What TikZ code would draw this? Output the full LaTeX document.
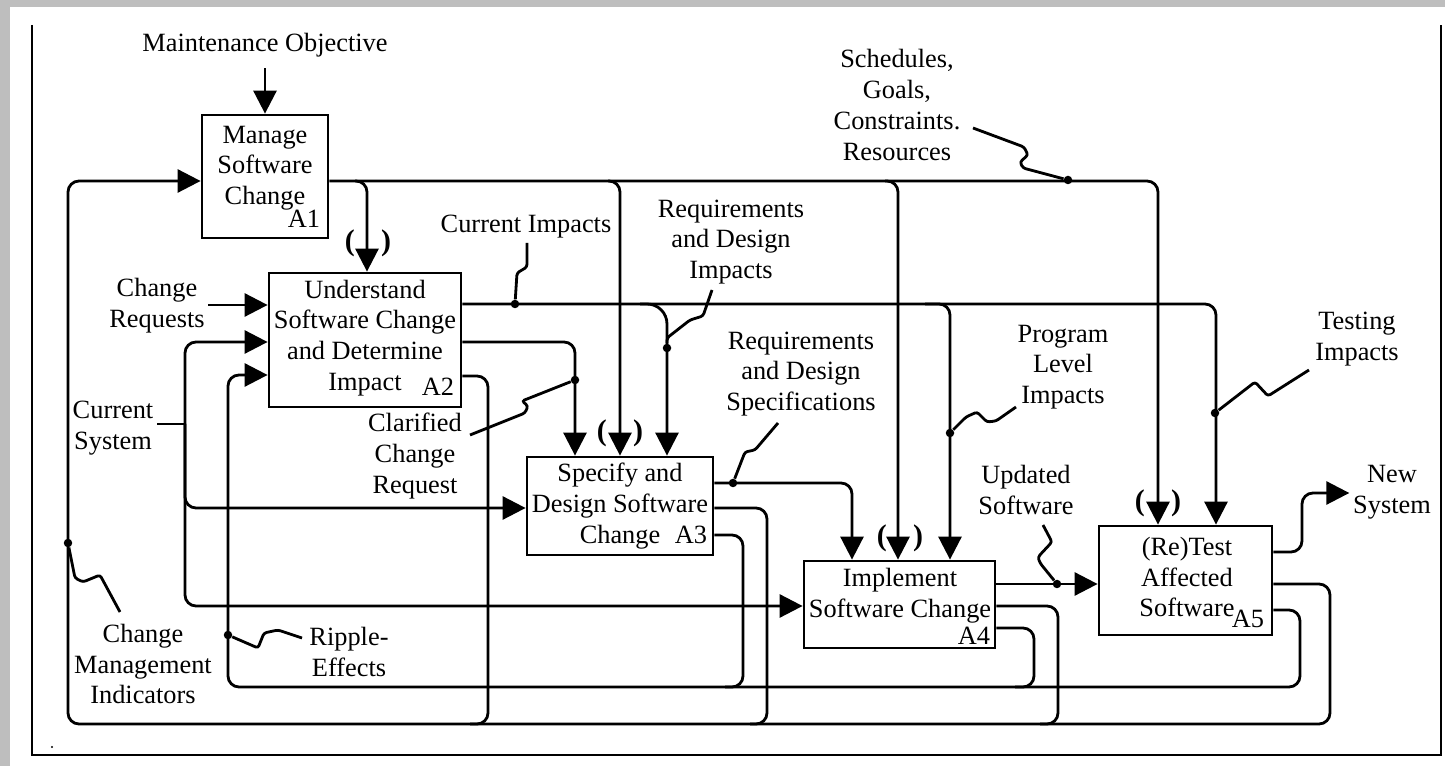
\documentclass[tikz,border=0pt]{standalone}
\usepackage{fontspec}
\setmainfont{Liberation Serif}
\usetikzlibrary{arrows.meta,positioning,calc}
\definecolor{pagegray}{HTML}{BEBEBE}
\tikzset{
  actbox/.style={rectangle,draw,line width=1.6pt,inner sep=0pt},
  boxtext/.style={align=center,font=\fontsize{15}{17.5}\selectfont,inner sep=1pt},
  tag/.style={font=\fontsize{15}{17.5}\selectfont,inner sep=1pt},
  lbl/.style={align=center,font=\fontsize{15}{17.5}\selectfont,inner sep=2pt},
  flow/.style={line width=1.6pt,rounded corners=0.22cm},
  arrow/.style={flow,-{Triangle[length=0.46cm,width=0.46cm]}},
  squig/.style={line width=1.6pt,rounded corners=1.5pt},
  tunnel/.style={font=\fontsize{17}{17.5}\selectfont\bfseries,inner sep=0pt},
  dot/.style={circle,fill,inner sep=0pt,minimum size=0.17cm}
}

\begin{document}
\begin{tikzpicture}[x=0.02cm,y=-0.02cm]
    \useasboundingbox (0,0) rectangle (1445,766);
    \fill[pagegray] (0,0) rectangle (1445,766);
    \fill[white] (10,7) rectangle (1445,766);
    \draw[line width=1pt] (32,25) -- (32,755) -- (1441,755) -- (1441,25);
    \fill (52,747) circle (0.6pt);

    % activity boxes
    \node[actbox,minimum width=2.52cm,minimum height=2.46cm] (a1) at (265,176.5) {};
    \node[actbox,minimum width=3.84cm,minimum height=2.68cm] (a2) at (365,340) {};
    \node[actbox,minimum width=3.72cm,minimum height=1.96cm] (a3) at (620,506) {};
    \node[actbox,minimum width=3.82cm,minimum height=1.74cm] (a4) at (899.5,604.5) {};
    \node[actbox,minimum width=3.46cm,minimum height=2.18cm] (a5) at (1185.5,580.5) {};

    \node[boxtext] (a1t) at (265,168) {Manage\\Software\\Change};
    \node[boxtext] (a2t) at (365,338) {Understand\\Software Change\\and Determine\\Impact};
    \node[boxtext] (a3t) at (620,506) {Specify and\\Design Software\\Change};
    \node[boxtext] (a4t) at (900,596) {Implement\\Software Change};
    \node[boxtext] (a5t) at (1187,577) {(Re)Test\\Affected\\Software};
    \node[tag] (t1) at (304,219) {A1};
    \node[tag] (t2) at (438,387) {A2};
    \node[tag] (t3) at (691,535) {A3};
    \node[tag] (t4) at (974,636) {A4};
    \node[tag] (t5) at (1248,619) {A5};

    % labels
    \node[lbl] (mo) at (265,45) {Maintenance Objective};
    \node[lbl] (sgc) at (897,105) {Schedules,\\Goals,\\Constraints.\\Resources};
    \node[lbl] (ci) at (526,227) {Current Impacts};
    \node[lbl] (rdi) at (731,242) {Requirements\\and Design\\Impacts};
    \node[lbl] (cr) at (157,306) {Change\\Requests};
    \node[lbl] (cs) at (113,428) {Current\\System};
    \node[lbl] (ccr) at (415,456) {Clarified\\Change\\Request};
    \node[lbl] (rds) at (801,374) {Requirements\\and Design\\Specifications};
    \node[lbl] (pli) at (1063,367) {Program\\Level\\Impacts};
    \node[lbl] (ti) at (1357,339) {Testing\\Impacts};
    \node[lbl] (us) at (1026,490) {Updated\\Software};
    \node[lbl] (ns) at (1392,492) {New\\System};
    \node[lbl] (cmi) at (143,664) {Change\\Management\\Indicators};
    \node[lbl] (re) at (349,652) {Ripple-\\Effects};

    % tunnel marks
    \node[tunnel] (p2) at (368,243) {(\hspace{15pt})};
    \node[tunnel] (p3) at (620,433) {(\hspace{15pt})};
    \node[tunnel] (p4) at (900,538) {(\hspace{15pt})};
    \node[tunnel] (p5) at (1158,503) {(\hspace{15pt})};

    % junction dots
    \node[dot] (dsgc) at (1068,180) {};
    \node[dot] (dci) at (515,304) {};
    \node[dot] (drdi) at (667,348) {};
    \node[dot] (dccr) at (575,380) {};
    \node[dot] (drds) at (733,483) {};
    \node[dot] (dpli) at (950,433) {};
    \node[dot] (dti) at (1215,413) {};
    \node[dot] (dus) at (1057,584) {};
    \node[dot] (dcmi) at (68,543) {};
    \node[dot] (dre) at (228,635) {};

    % controls
    \draw[arrow] ([yshift=-0.15cm]mo.south) -- (a1.north);
    \draw[arrow] (a1.east|-0,181) -| (a5.north-|1158,0);
    \draw[arrow] (355,181) -| (a2.north-|367,0);
    \draw[arrow] (608,181) -| (a3.north-|620,0);
    \draw[arrow] (885,181) -| (a4.north-|898,0);
    \draw[arrow] (a2.east|-0,304) -| (a5.north-|1216,0);
    \draw[arrow,rounded corners=0.4cm] (640,304) -| (a3.north-|667,0);
    \draw[arrow] (925,304) -| (a4.north-|950,0);
    \draw[arrow] (a2.east|-0,342) -| (a3.north-|575,0);
    \draw[arrow] (a3.east|-0,483) -| (a4.north-|852,0);

    % inputs
    \draw[arrow] (cr.east|-0,305) -- (a2.west|-0,305);
    \draw[flow] (cs.east|-0,424) -- (185,424);
    \draw[arrow] (185,424) |- (a2.west|-0,342);
    \draw[arrow] (185,424) |- (a3.west|-0,508);
    \draw[arrow] (185,424) |- (a4.west|-0,606);
    \draw[arrow] (a4.east|-0,584) -- (a5.west|-0,584);
    \draw[arrow] (a5.east|-0,552) -| (1302,493) -- (ns.west|-0,493);

    % feedback loops
    \draw[arrow] (a5.east|-0,584) -| (1330,724) -| (68,400) |- (a1.west|-0,181);
    \draw[flow] (a2.east|-0,376) -| (488,724) -- (470,724);
    \draw[flow] (a3.east|-0,508) -| (767,724) -- (750,724);
    \draw[flow] (a4.east|-0,606) -| (1058,724) -- (1040,724);
    \draw[arrow] (a5.east|-0,610) -| (1300,687) -| (228,500) |- (a2.west|-0,375);
    \draw[flow] (a3.east|-0,535) -| (743,687) -- (725,687);
    \draw[flow] (a4.east|-0,628) -| (1034,687) -- (1015,687);

    % label squiggles
    \draw[squig] (973,128) -- (1024,147) -- (1028,155) -- (1020,162) -- (1023,168) -- (dsgc);
    \draw[squig] (527,243) -- (527,267) -- (517,273) -- (dci);
    \draw[squig] (712,290) -- (703,316) -- (690,320) -- (667,338) -- (drdi);
    \draw[squig] (470,435) -- (525,413) -- (528,406) -- (522,401) -- (dccr);
    \draw[squig] (778,423) -- (755,450) -- (745,452) -- (drds);
    \draw[squig] (dpli) -- (966,417) -- (977,412) -- (987,422) -- (996,421) -- (1016,407);
    \draw[squig] (dti) -- (1255,382) -- (1268,396) -- (1309,370);
    \draw[squig] (1043,525) -- (1052,542) -- (1038,557) -- (1040,563) -- (dus);
    \draw[squig] (dcmi) -- (75,578) -- (83,582) -- (100,575) -- (120,612);
    \draw[squig] (dre) -- (258,648) -- (264,633) -- (278,630) -- (302,638);
\end{tikzpicture}
\end{document}
